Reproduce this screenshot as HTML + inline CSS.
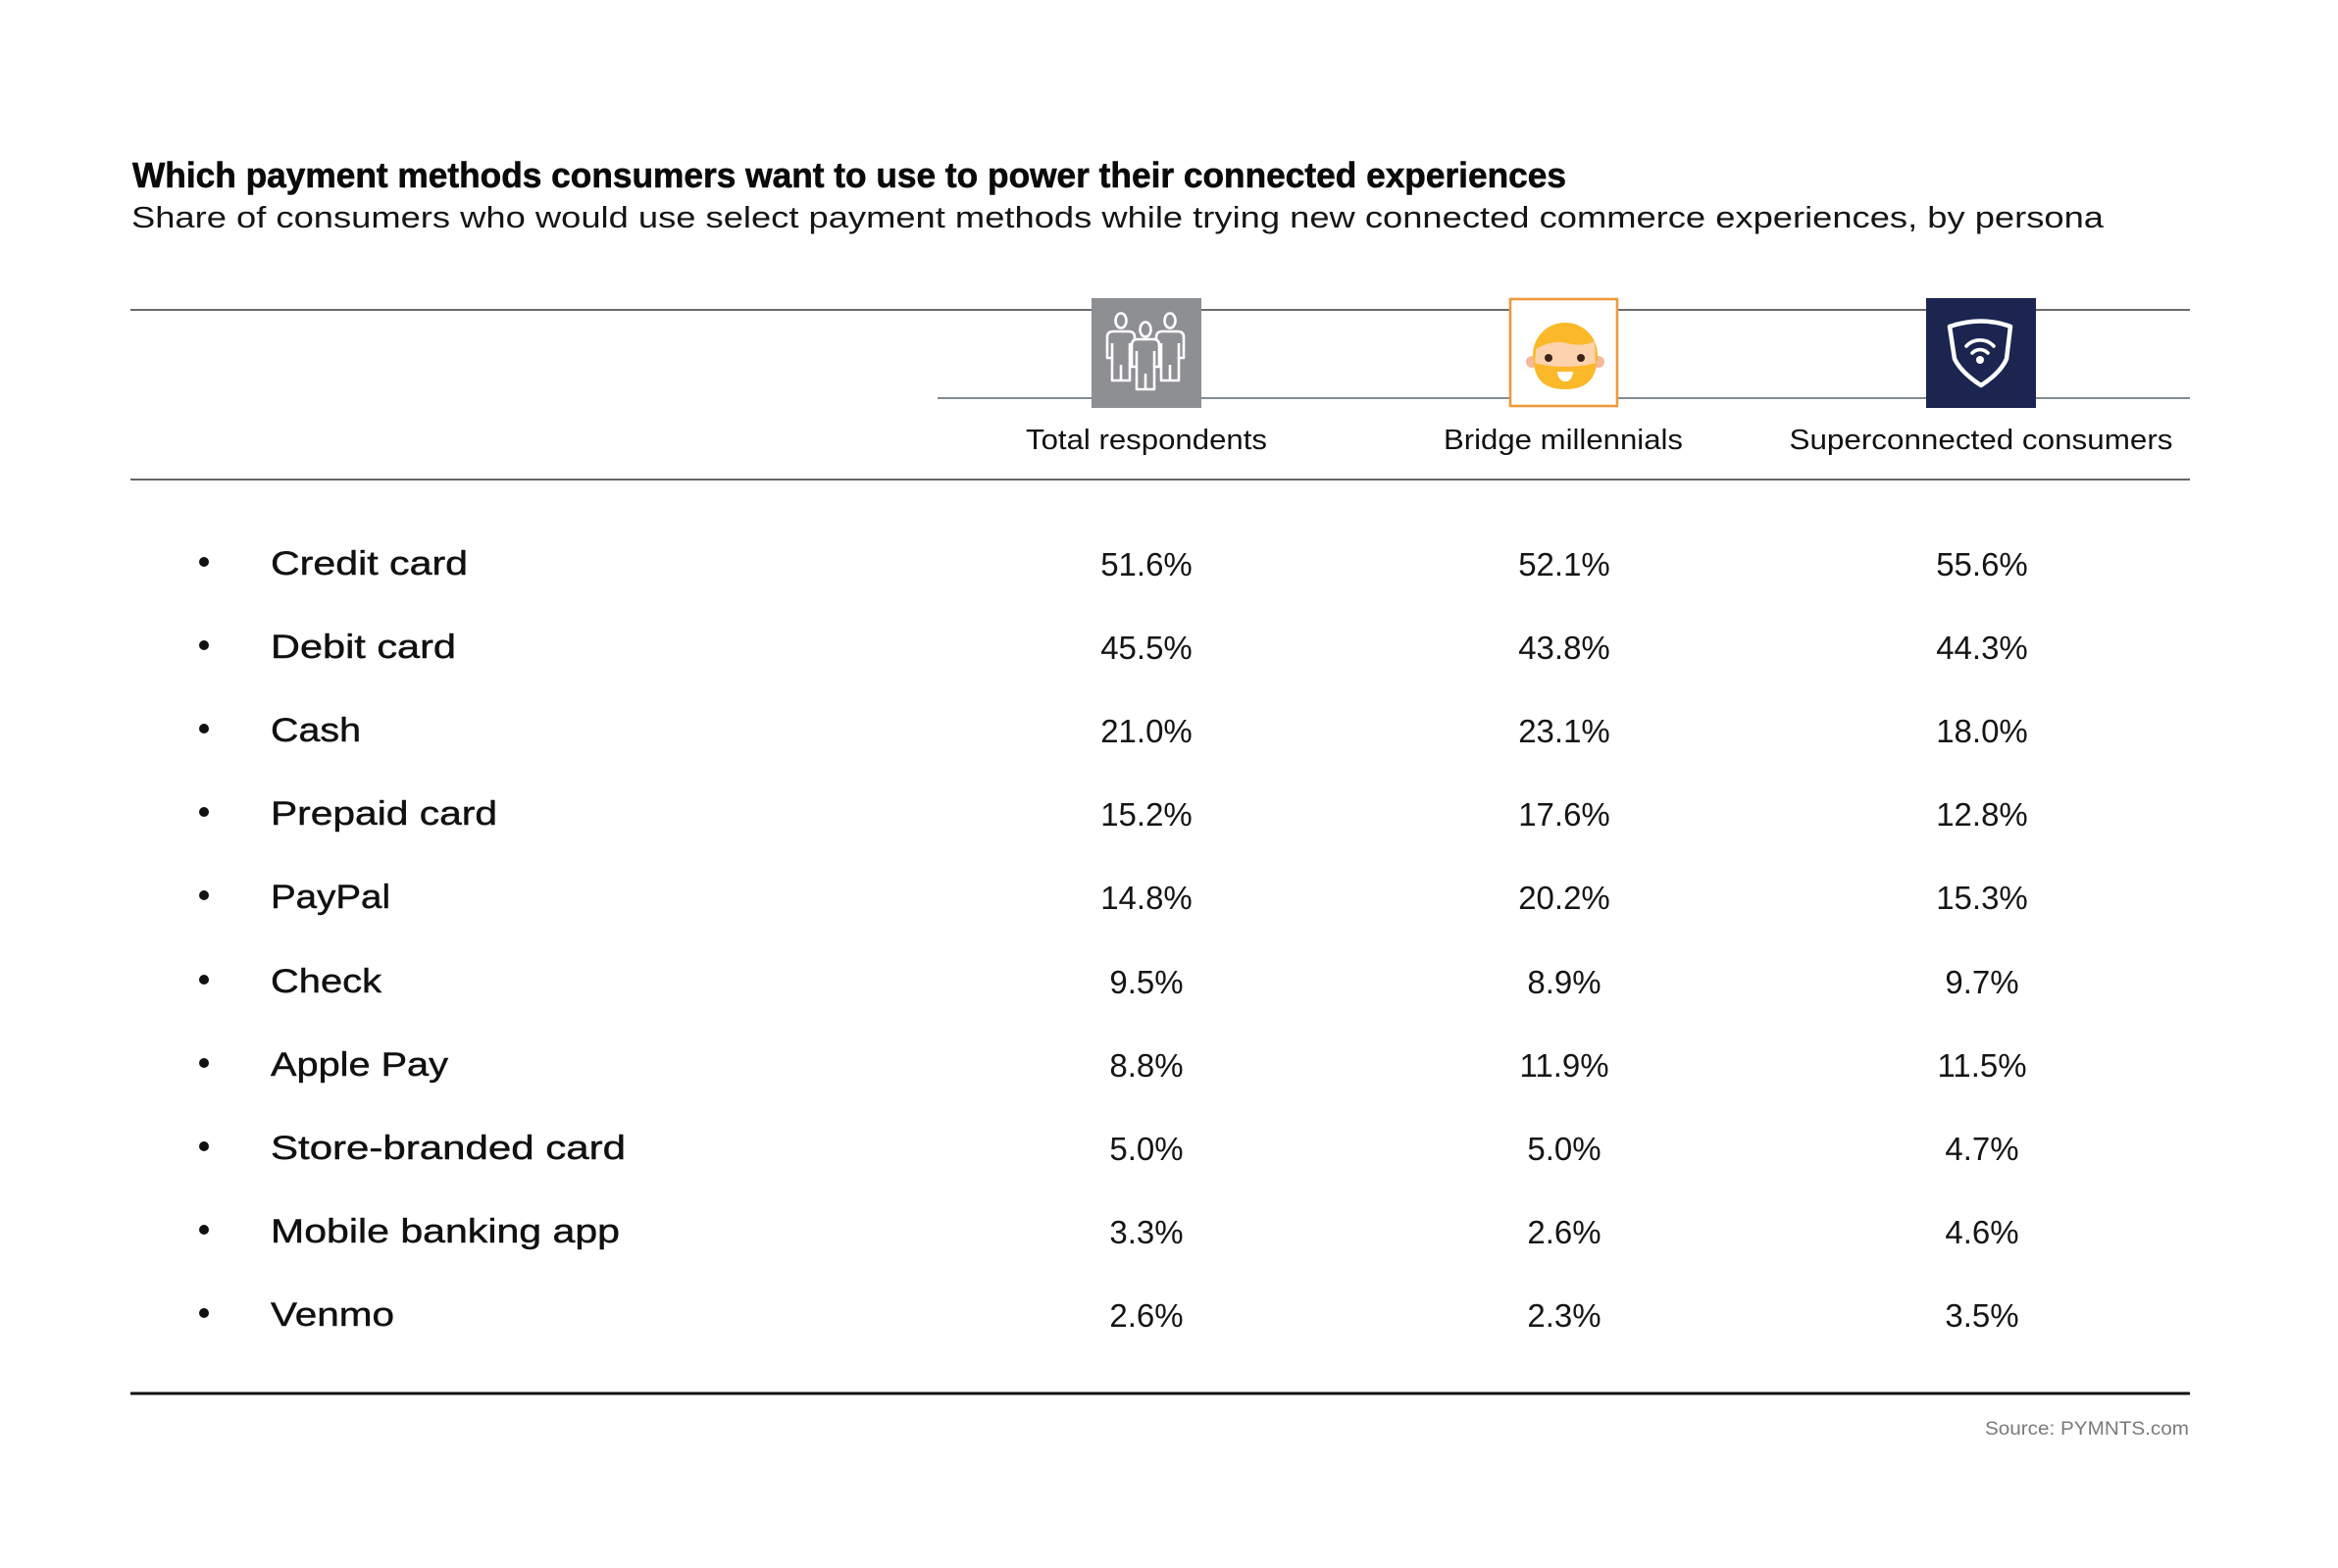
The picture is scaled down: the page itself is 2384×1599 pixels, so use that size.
<!DOCTYPE html>
<html>
<head>
<meta charset="utf-8">
<style>
  html,body{margin:0;padding:0;background:#fff;}
  svg{display:block;}
  text{font-family:"Liberation Sans", sans-serif;}
</style>
</head>
<body>
<svg width="2384" height="1599" viewBox="0 0 2384 1599" xmlns="http://www.w3.org/2000/svg">
  <rect width="2384" height="1599" fill="#fff"/>

  <!-- Title / subtitle -->
  <text x="135" y="191" font-size="36" font-weight="bold" fill="#0a0a0a" stroke="#0a0a0a" stroke-width="0.6" textLength="1462" lengthAdjust="spacingAndGlyphs">Which payment methods consumers want to use to power their connected experiences</text>
  <text x="134" y="232" font-size="31" fill="#151515" textLength="2011" lengthAdjust="spacingAndGlyphs">Share of consumers who would use select payment methods while trying new connected commerce experiences, by persona</text>

  <!-- Lines -->
  <line x1="133" y1="316" x2="2233" y2="316" stroke="#6b6b6b" stroke-width="2"/>
  <line x1="956" y1="406" x2="2233" y2="406" stroke="#56666b" stroke-width="1.6"/>
  <line x1="133" y1="489" x2="2233" y2="489" stroke="#666" stroke-width="2"/>
  <line x1="133" y1="1421" x2="2233" y2="1421" stroke="#111" stroke-width="3"/>

  <!-- Icon 1: Total respondents -->
  <rect x="1113" y="304" width="112" height="112" fill="#8e8f92"/>
  <g fill="none" stroke="#fff" stroke-width="2.6" stroke-linejoin="round">
    <ellipse cx="1143" cy="327" rx="5.5" ry="7.5"/>
    <ellipse cx="1193" cy="327" rx="5.5" ry="7.5"/>
    <path d="M1135,338 L1151,338 Q1157,338 1157,344 L1157,365 L1152,365 L1152,388 L1134,388 L1134,365 L1129,365 L1129,344 Q1129,338 1135,338 Z"/>
    <path d="M1185,338 L1201,338 Q1207,338 1207,344 L1207,365 L1202,365 L1202,388 L1184,388 L1184,365 L1179,365 L1179,344 Q1179,338 1185,338 Z"/>
    <path d="M1134,350 L1134,365 M1152,350 L1152,365 M1143,372 L1143,388 M1184,350 L1184,365 M1202,350 L1202,365 M1193,372 L1193,388"/>
  </g>
  <g stroke="#fff" stroke-width="2.6" stroke-linejoin="round">
    <path fill="#8e8f92" d="M1160,346 L1176,346 Q1182,346 1182,352 L1182,374 L1177,374 L1177,397 L1159,397 L1159,374 L1154,374 L1154,352 Q1154,346 1160,346 Z"/>
    <ellipse fill="#8e8f92" cx="1168" cy="336" rx="5.5" ry="7.5"/>
    <path fill="none" d="M1159,358 L1159,374 M1177,358 L1177,374 M1168,381 L1168,397"/>
  </g>

  <!-- Icon 2: Bridge millennials -->
  <rect x="1540" y="305" width="109" height="109" fill="#fff" stroke="#ef9a3a" stroke-width="2.6"/>
  <circle cx="1562" cy="369" r="6" fill="#f4b89a"/>
  <circle cx="1630" cy="369" r="6" fill="#f4b89a"/>
  <circle cx="1596" cy="362" r="33" fill="#fbb829"/>
  <path d="M1566,356 Q1582,346 1598,350 Q1614,354 1626,348 L1627,374 Q1596,378 1565,374 Z" fill="#fdd3ad"/>
  <path d="M1564,370 Q1566,397 1596,397 Q1626,397 1628,370 Q1612,374 1596,374 Q1580,374 1564,370 Z" fill="#fbb829"/>
  <circle cx="1579" cy="365" r="4" fill="#3a2418"/>
  <circle cx="1612" cy="365" r="4" fill="#3a2418"/>
  <path d="M1588,379 L1604,379 Q1603,389 1596,389 Q1589,389 1588,379 Z" fill="#fff"/>

  <!-- Icon 3: Superconnected consumers -->
  <rect x="1964" y="304" width="112" height="112" fill="#1b2550"/>
  <path d="M1988,333 Q2020,322 2050,333 L2046,366 Q2040,380 2020,393 Q2000,380 1993,366 Z" fill="none" stroke="#fff" stroke-width="4.5" stroke-linejoin="round"/>
  <circle cx="2019" cy="367" r="4" fill="#fff"/>
  <path d="M2011,360 A11,11 0 0 1 2027,360" fill="none" stroke="#fff" stroke-width="3.6" stroke-linecap="round"/>
  <path d="M2005,353 A19,19 0 0 1 2033,353" fill="none" stroke="#fff" stroke-width="3.6" stroke-linecap="round"/>

  <!-- Column headers -->
  <g font-size="29" fill="#111" text-anchor="middle">
    <text x="1169" y="458" textLength="246" lengthAdjust="spacingAndGlyphs">Total respondents</text>
    <text x="1594" y="458" textLength="244" lengthAdjust="spacingAndGlyphs">Bridge millennials</text>
    <text x="2020" y="458" textLength="391" lengthAdjust="spacingAndGlyphs">Superconnected consumers</text>
  </g>

  <!-- Rows -->
  <g fill="#111">
    <circle cx="208" cy="573" r="5"/>
    <circle cx="208" cy="658" r="5"/>
    <circle cx="208" cy="743" r="5"/>
    <circle cx="208" cy="828" r="5"/>
    <circle cx="208" cy="913" r="5"/>
    <circle cx="208" cy="999" r="5"/>
    <circle cx="208" cy="1084" r="5"/>
    <circle cx="208" cy="1169" r="5"/>
    <circle cx="208" cy="1254" r="5"/>
    <circle cx="208" cy="1339" r="5"/>
  </g>
  <g font-size="34" fill="#111" stroke="#111" stroke-width="0.45">
    <text x="276" y="586" textLength="201" lengthAdjust="spacingAndGlyphs">Credit card</text>
    <text x="276" y="671" textLength="189" lengthAdjust="spacingAndGlyphs">Debit card</text>
    <text x="276" y="756" textLength="92" lengthAdjust="spacingAndGlyphs">Cash</text>
    <text x="276" y="841" textLength="231" lengthAdjust="spacingAndGlyphs">Prepaid card</text>
    <text x="276" y="926" textLength="122" lengthAdjust="spacingAndGlyphs">PayPal</text>
    <text x="276" y="1012" textLength="113" lengthAdjust="spacingAndGlyphs">Check</text>
    <text x="276" y="1097" textLength="181" lengthAdjust="spacingAndGlyphs">Apple Pay</text>
    <text x="276" y="1182" textLength="362" lengthAdjust="spacingAndGlyphs">Store-branded card</text>
    <text x="276" y="1267" textLength="356" lengthAdjust="spacingAndGlyphs">Mobile banking app</text>
    <text x="276" y="1352" textLength="126" lengthAdjust="spacingAndGlyphs">Venmo</text>
  </g>

  <g font-size="33" fill="#151515" text-anchor="middle">
    <text x="1169" y="587">51.6%</text><text x="1595" y="587">52.1%</text><text x="2021" y="587">55.6%</text>
    <text x="1169" y="672">45.5%</text><text x="1595" y="672">43.8%</text><text x="2021" y="672">44.3%</text>
    <text x="1169" y="757">21.0%</text><text x="1595" y="757">23.1%</text><text x="2021" y="757">18.0%</text>
    <text x="1169" y="842">15.2%</text><text x="1595" y="842">17.6%</text><text x="2021" y="842">12.8%</text>
    <text x="1169" y="927">14.8%</text><text x="1595" y="927">20.2%</text><text x="2021" y="927">15.3%</text>
    <text x="1169" y="1013">9.5%</text><text x="1595" y="1013">8.9%</text><text x="2021" y="1013">9.7%</text>
    <text x="1169" y="1098">8.8%</text><text x="1595" y="1098">11.9%</text><text x="2021" y="1098">11.5%</text>
    <text x="1169" y="1183">5.0%</text><text x="1595" y="1183">5.0%</text><text x="2021" y="1183">4.7%</text>
    <text x="1169" y="1268">3.3%</text><text x="1595" y="1268">2.6%</text><text x="2021" y="1268">4.6%</text>
    <text x="1169" y="1353">2.6%</text><text x="1595" y="1353">2.3%</text><text x="2021" y="1353">3.5%</text>
  </g>

  <!-- Source -->
  <text x="2232" y="1463" font-size="19" fill="#7a7a7a" text-anchor="end" textLength="208" lengthAdjust="spacingAndGlyphs">Source: PYMNTS.com</text>
</svg>
</body>
</html>
